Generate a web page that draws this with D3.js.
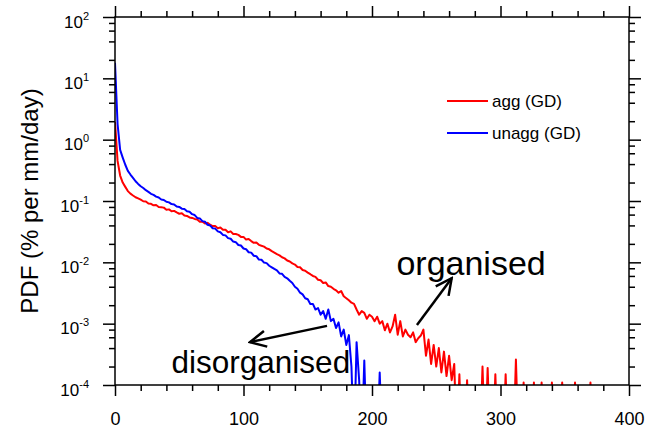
<!DOCTYPE html>
<html>
<head>
<meta charset="utf-8">
<script src="https://cdn.jsdelivr.net/npm/d3@7"></script>
<style>
body { margin: 0; background: #fff; }
svg { display: block; font-family: "Liberation Sans", Arial, Helvetica, sans-serif; }
</style>
</head>
<body>
<div id="viz"></div>
<script>
var svg_width = 652;
var svg_height = 431;
var plot_left = 115, plot_right = 629, plot_top = 17, plot_bottom = 385;

// rain-rate bins (mm/day), 2 mm/day wide
var bin_width = 2;

// PDF (% per mm/day), aggregated run, one value per bin (0 = no events)
var agg_pdf = [
  1.95, 0.45, 0.26, 0.20, 0.17, 0.145, 0.132, 0.123, 0.115, 0.110,
  0.105, 0.099, 0.098, 0.091, 0.090, 0.085, 0.086, 0.080, 0.079, 0.078,
  0.072, 0.073, 0.068, 0.069, 0.065, 0.062, 0.063, 0.058, 0.057, 0.054,
  0.053, 0.051, 0.050, 0.046, 0.046, 0.043, 0.044, 0.041, 0.039, 0.039,
  0.036, 0.037, 0.034, 0.034, 0.031, 0.032, 0.029, 0.029, 0.028, 0.026,
  0.026, 0.0235, 0.024, 0.0222, 0.0208, 0.0210, 0.0193, 0.0186, 0.0180, 0.0168,
  0.0163, 0.0152, 0.0144, 0.0136, 0.0130, 0.0121, 0.0116, 0.0107, 0.0103, 0.0096,
  0.0092, 0.0084, 0.0083, 0.0075, 0.0073, 0.0068, 0.0064, 0.0060, 0.0058, 0.0052,
  0.0051, 0.0046, 0.0047, 0.0041, 0.0040, 0.0037, 0.0035, 0.0032, 0.0034, 0.0028,
  0.0026, 0.0024, 0.0022, 0.0021, 0.0017, 0.0014, 0.0016, 0.0015, 0.0012, 0.0014,
  0.0013, 0.0011, 0.0013, 0.0010, 0.0011, 0.00078, 0.0010, 0.00072, 0.0009, 0.0014,
  0.00066, 0.0011, 0.00062, 0.0008, 0.00066, 0.0006, 0.00072, 0.0005, 0.00058, 0.00064,
  0.0008, 0.00030, 0.00055, 0.00022, 0.00045, 0.00020, 0.00040, 0.00016, 0.00035, 0.00014,
  0.00030, 0.00012, 0.00022, 0, 0.00015, 0, 0, 0.00012, 0, 0,
  0, 0, 0, 0.00020, 0, 0.00019, 0, 0, 0.00015, 0,
  0, 0, 0.00015, 0, 0, 0, 0.00026, 0, 0, 0.00011,
  0, 0, 0, 0.00011, 0, 0, 0.00011, 0, 0, 0,
  0.00011, 0, 0, 0, 0.00011, 0, 0, 0, 0, 0.00011,
  0, 0, 0, 0, 0, 0.00011, 0, 0, 0, 0
];

// PDF (% per mm/day), unaggregated run
var unagg_pdf = [
  18, 1.8, 0.68, 0.51, 0.39, 0.31, 0.27, 0.238, 0.21, 0.19,
  0.174, 0.163, 0.150, 0.141, 0.131, 0.126, 0.118, 0.114, 0.106, 0.104,
  0.097, 0.095, 0.089, 0.088, 0.081, 0.080, 0.075, 0.074, 0.068, 0.067,
  0.061, 0.059, 0.053, 0.052, 0.047, 0.046, 0.041, 0.040, 0.036, 0.0355,
  0.032, 0.031, 0.028, 0.0275, 0.0248, 0.0242, 0.0218, 0.0213, 0.0192, 0.0188,
  0.0168, 0.0164, 0.0146, 0.0144, 0.0128, 0.0126, 0.0111, 0.0110, 0.0099, 0.0097,
  0.0088, 0.0083, 0.0078, 0.0074, 0.0066, 0.0065, 0.0058, 0.0055, 0.0050, 0.0046,
  0.0040, 0.0037, 0.0032, 0.0030, 0.0026, 0.0025, 0.0021, 0.0021, 0.0017, 0.0018,
  0.0014, 0.0016, 0.0012, 0.0017, 0.0011, 0.0012, 0.00085, 0.00105, 0.00062, 0.00080,
  0.00045, 0.00065, 0.00020, 0, 0.00050, 0.00012, 0, 0.00025, 0, 0,
  0, 0, 0, 0.00016, 0
];

var series_names = ["agg (GD)", "unagg (GD)"];
var series_colors = ["#ff0000", "#0000ff"];

var x_major = [0, 100, 200, 300, 400];
var x_tick_labels = ["0", "100", "200", "300", "400"];
var x_minor = [20, 40, 60, 80, 120, 140, 160, 180, 220, 240, 260, 280, 320, 340, 360, 380];
var y_exponents = [-4, -3, -2, -1, 0, 1, 2];
var y_minor_mult = [2, 4, 6, 8];

var svg = d3.select('#viz')
  .append('svg')
  .attr('width', svg_width)
  .attr('height', svg_height);

var x = d3.scaleLinear().domain([0, 400]).range([plot_left, plot_right]);
var y = d3.scaleLog().domain([1e-4, 1e2]).range([plot_bottom, plot_top]);

svg.append('clipPath').attr('id', 'plot-clip')
  .append('rect')
  .attr('x', plot_left).attr('y', plot_top)
  .attr('width', plot_right - plot_left)
  .attr('height', plot_bottom - plot_top);

// empty bins sit below the bottom of the log axis
var line = d3.line()
  .x(function(d, i) { return x(i * bin_width); })
  .y(function(d) { return d > 0 ? y(d) : y(1e-5); });

[agg_pdf, unagg_pdf].forEach(function(s, k) {
  svg.append('path')
    .datum(s)
    .attr('clip-path', 'url(#plot-clip)')
    .attr('fill', 'none')
    .attr('stroke', series_colors[k])
    .attr('stroke-width', 2)
    .attr('stroke-linejoin', 'round')
    .attr('d', line);
});

var y_minor = [];
y_exponents.slice(0, -1).forEach(function(e) {
  y_minor_mult.forEach(function(m) { y_minor.push(m * Math.pow(10, e)); });
});
var y_major = y_exponents.map(function(e) { return Math.pow(10, e); });

function clean(g) {
  g.attr('font-family', null).attr('font-size', null);
  g.select('.domain').remove();
  g.selectAll('line').attr('stroke', '#000').attr('stroke-width', 1.5);
}

// bottom / top
svg.append('g').attr('transform', 'translate(0,' + plot_bottom + ')')
  .call(d3.axisBottom(x).tickValues(x_major).tickSize(11)
    .tickFormat(function(d, i) { return x_tick_labels[i]; }))
  .call(clean)
  .selectAll('text')
  .attr('y', 40).attr('dy', null)
  .attr('fill', '#000')
  .style('font-size', '18px');
svg.append('g').attr('transform', 'translate(0,' + plot_bottom + ')')
  .call(d3.axisBottom(x).tickValues(x_minor).tickSize(6).tickFormat(''))
  .call(clean);
svg.append('g').attr('transform', 'translate(0,' + plot_top + ')')
  .call(d3.axisTop(x).tickValues(x_major).tickSize(11).tickFormat(''))
  .call(clean);
svg.append('g').attr('transform', 'translate(0,' + plot_top + ')')
  .call(d3.axisTop(x).tickValues(x_minor).tickSize(6).tickFormat(''))
  .call(clean);

// left / right
var y_axis = svg.append('g').attr('transform', 'translate(' + plot_left + ',0)')
  .call(d3.axisLeft(y).tickValues(y_major).tickSize(12).tickFormat(''))
  .call(clean);
y_axis.selectAll('.tick text').remove();
y_axis.selectAll('.tick').each(function(d) {
  var t = d3.select(this).append('text')
    .attr('x', -26).attr('y', 10)
    .attr('text-anchor', 'end')
    .attr('fill', '#000')
    .style('font-size', '17px');
  t.append('tspan').text('10');
  t.append('tspan').attr('dy', -8).style('font-size', '11px')
    .text(Math.round(Math.log10(d)));
});
svg.append('g').attr('transform', 'translate(' + plot_left + ',0)')
  .call(d3.axisLeft(y).tickValues(y_minor).tickSize(6).tickFormat(''))
  .call(clean);
svg.append('g').attr('transform', 'translate(' + plot_right + ',0)')
  .call(d3.axisRight(y).tickValues(y_major).tickSize(12).tickFormat(''))
  .call(clean);
svg.append('g').attr('transform', 'translate(' + plot_right + ',0)')
  .call(d3.axisRight(y).tickValues(y_minor).tickSize(6).tickFormat(''))
  .call(clean);

// frame
svg.append('rect')
  .attr('x', plot_left).attr('y', plot_top)
  .attr('width', plot_right - plot_left)
  .attr('height', plot_bottom - plot_top)
  .attr('fill', 'none')
  .attr('stroke', '#000')
  .attr('stroke-width', 1.5);

// y title
svg.append('text')
  .attr('transform', 'translate(38,' + (plot_top + plot_bottom) / 2 + ') rotate(-90)')
  .attr('text-anchor', 'middle')
  .style('font-size', '24px')
  .attr('fill', '#000')
  .text('PDF (% per mm/day)');

// legend
var legend = svg.append('g');
series_names.forEach(function(name, k) {
  var ly = 101 + k * 32;
  legend.append('line')
    .attr('x1', 447).attr('x2', 488)
    .attr('y1', ly).attr('y2', ly)
    .attr('stroke', series_colors[k])
    .attr('stroke-width', 2);
  legend.append('text')
    .attr('x', 492).attr('y', ly + 6)
    .style('font-size', '17px')
    .attr('fill', '#000')
    .text(name);
});

// annotations
svg.append('defs').append('marker')
  .attr('id', 'head')
  .attr('markerUnits', 'userSpaceOnUse')
  .attr('viewBox', '-18 -10 20 20')
  .attr('refX', 0).attr('refY', 0)
  .attr('markerWidth', 20).attr('markerHeight', 20)
  .attr('orient', 'auto')
  .append('path')
  .attr('d', 'M-16,-8L0,0L-16,8')
  .attr('fill', 'none')
  .attr('stroke', '#000')
  .attr('stroke-width', 2.5);

var notes = [
  { text: 'organised', size: 34, at: [219, 6.2e-3], from: [235, 9.5e-4], to: [262, 5.5e-3] },
  { text: 'disorganised', size: 31.5, at: [44, 1.57e-4], from: [165, 9.2e-4], to: [105, 5.0e-4] }
];
notes.forEach(function(n) {
  svg.append('line')
    .attr('x1', x(n.from[0])).attr('y1', y(n.from[1]))
    .attr('x2', x(n.to[0])).attr('y2', y(n.to[1]))
    .attr('stroke', '#000')
    .attr('stroke-width', 2.5)
    .attr('marker-end', 'url(#head)');
  svg.append('text')
    .attr('x', x(n.at[0])).attr('y', y(n.at[1]))
    .style('font-size', n.size + 'px')
    .attr('fill', '#000')
    .text(n.text);
});
</script>
</body>
</html>
